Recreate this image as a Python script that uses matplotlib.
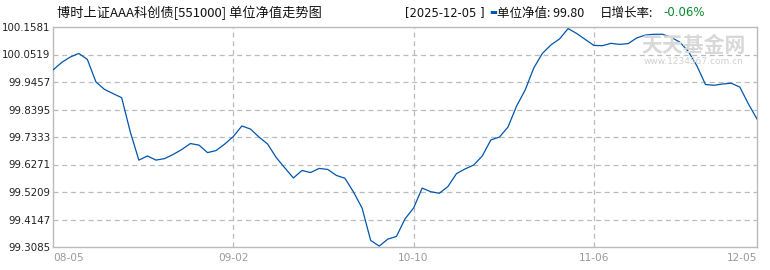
import matplotlib
matplotlib.use("Agg")
import matplotlib.pyplot as plt

# unit NAV, one value per trading day (08-05 .. 12-05)
nav = [99.992, 100.021, 100.042, 100.056, 100.033, 99.946, 99.917, 99.901, 99.885, 99.753,
       99.644, 99.660, 99.644, 99.650, 99.666, 99.685, 99.708, 99.702, 99.673, 99.681,
       99.706, 99.735, 99.776, 99.764, 99.733, 99.706, 99.654, 99.614, 99.575, 99.604,
       99.596, 99.612, 99.608, 99.585, 99.574, 99.521, 99.459, 99.334, 99.312, 99.339,
       99.349, 99.417, 99.459, 99.536, 99.522, 99.516, 99.542, 99.592, 99.610, 99.625,
       99.660, 99.722, 99.733, 99.772, 99.853, 99.915, 100.000, 100.056, 100.089, 100.112,
       100.152, 100.133, 100.110, 100.087, 100.086, 100.095, 100.091, 100.094, 100.116, 100.127,
       100.130, 100.130, 100.118, 100.100, 100.064, 100.008, 99.936, 99.933, 99.938, 99.941,
       99.926, 99.861, 99.803]

x_tick_pos = [0, 21, 42, 63, 82]
x_tick_labels = ["08-05", "09-02", "10-10", "11-06", "12-05"]
y_ticks = [99.3085, 99.4147, 99.5209, 99.6271, 99.7333, 99.8395, 99.9457, 100.0519, 100.1581]

title = "博时上证AAA科创债[551000] 单位净值走势图"
last_date = "[2025-12-05 ]"
last_nav = "99.80"
day_change = "-0.06%"

plt.rcParams['font.family'] = ['Noto Sans CJK SC', 'DejaVu Sans']

fig = plt.figure(figsize=(7.7, 2.7), dpi=100)
ax = fig.add_axes([53 / 770, 1 - 247 / 270, (757 - 53) / 770, 220 / 270])

grid_col = "#bbbbbb"
ax.plot(range(len(nav)), nav, color="#0056ad", lw=0.9, zorder=3)

ax.set_xlim(0, len(nav) - 1)
ax.set_ylim(y_ticks[0], y_ticks[-1])

ax.set_yticks(y_ticks)
ax.set_yticklabels([f"{v:.4f}" for v in y_ticks], family="DejaVu Sans", fontsize=7.4, color="#222222")
ax.set_xticks(x_tick_pos)
ax.set_xticklabels(x_tick_labels, family="DejaVu Sans", fontsize=7.6, color="#999999")
labels = ax.get_xticklabels()
labels[0].set_ha("left")
labels[-1].set_ha("right")
ax.tick_params(axis="y", length=0, pad=2)
ax.tick_params(axis="x", length=0, pad=4)

for v in y_ticks[1:-1]:
    ax.axhline(v, color=grid_col, lw=0.9, ls=(0, (4, 3)), zorder=1)
for p in x_tick_pos[1:-1]:
    ax.axvline(p, color=grid_col, lw=0.9, ls=(0, (4, 3)), zorder=1)

for s in ax.spines.values():
    s.set_color(grid_col)
    s.set_linewidth(1.0)

# header texts
fig.text(57 / 770, 1 - 13 / 270, title, fontsize=9.5, va="center", ha="left", color="#111111")
fig.text(405 / 770, 1 - 13 / 270, last_date, fontsize=8.3, va="center", ha="left",
         family="DejaVu Sans", color="#111111")
fig.text(489 / 770, 1 - 13 / 270, "▬", fontsize=6, va="center", ha="left",
         family="DejaVu Sans", color="#0056ad")
fig.text(497 / 770, 1 - 13 / 270, "单位净值: " + last_nav, fontsize=9, va="center", ha="left",
         color="#111111")
fig.text(600 / 770, 1 - 13 / 270, "日增长率:", fontsize=9, va="center", ha="left", color="#111111")
fig.text(663 / 770, 1 - 13 / 270, day_change, fontsize=8.5, va="center", ha="left",
         family="DejaVu Sans", color="#0a8a2a")

# watermark
fig.text(694 / 770, 1 - 45 / 270, "天天基金网", fontsize=15, va="center", ha="center",
         color="#d8d8d8", fontweight="bold", zorder=0)
fig.text(694 / 770, 1 - 62 / 270, "www.1234567.com.cn", fontsize=6.5, va="center", ha="center",
         family="DejaVu Sans", color="#d0d0d0", zorder=0)

fig.savefig("out.png", dpi=100)
